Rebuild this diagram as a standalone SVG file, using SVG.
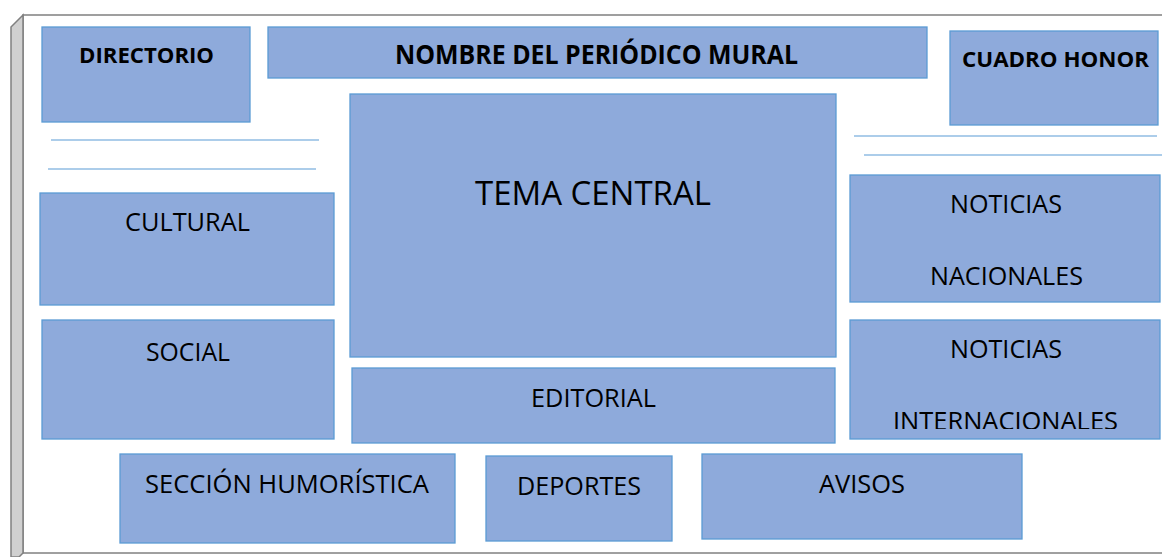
<svg xmlns="http://www.w3.org/2000/svg" width="1162" height="557" viewBox="0 0 1162 557">
<style>
.box{fill:#8eaadb;stroke:#5b9bd5;stroke-width:1.3}
.t{font-family:"Open Sans","Liberation Sans",sans-serif;font-size:25px;fill:#000;text-anchor:start}
.b{font-weight:bold;font-size:22px}
.rule{stroke:#5b9bd5;stroke-width:1.2;fill:none}
</style>
<defs>
<clipPath id="clipInt"><rect x="850" y="320" width="310" height="109"/></clipPath>
</defs>
<g id="frame">
<rect x="23" y="15" width="1145" height="538" fill="#ffffff" stroke="#808080" stroke-width="1.5"/>
<path d="M11,27 L23,15 L23,553 L19,557 L11,557 Z" fill="#d0d0d0" stroke="#808080" stroke-width="1.5"/>
</g>
<g id="rules">
<line class="rule" x1="51" y1="140" x2="319" y2="140"/>
<line class="rule" x1="48" y1="169" x2="316" y2="169"/>
<line class="rule" x1="854" y1="136" x2="1157" y2="136"/>
<line class="rule" x1="864" y1="155" x2="1162" y2="155"/>
</g>
<g id="directorio">
<rect class="box" x="42" y="27" width="208" height="95"/>
<text class="t b" x="79" y="63" textLength="135" lengthAdjust="spacingAndGlyphs">DIRECTORIO</text>
</g>
<g id="nombre">
<rect class="box" x="268" y="27" width="659" height="51"/>
<text class="t b" x="395" y="64" style="font-size:26px" textLength="403" lengthAdjust="spacingAndGlyphs">NOMBRE DEL PERIÓDICO MURAL</text>
</g>
<g id="cuadro-honor">
<rect class="box" x="950" y="31" width="208" height="94"/>
<text class="t b" x="962" y="67" textLength="187" lengthAdjust="spacingAndGlyphs">CUADRO HONOR</text>
</g>
<g id="tema-central">
<rect class="box" x="350" y="94" width="486" height="263"/>
<text class="t" x="475" y="205" style="font-size:32px" textLength="236" lengthAdjust="spacingAndGlyphs">TEMA CENTRAL</text>
</g>
<g id="cultural">
<rect class="box" x="40" y="193" width="294" height="112"/>
<text class="t" x="125" y="231" textLength="125" lengthAdjust="spacingAndGlyphs">CULTURAL</text>
</g>
<g id="social">
<rect class="box" x="42" y="320" width="292" height="119"/>
<text class="t" x="146" y="361" textLength="84" lengthAdjust="spacingAndGlyphs">SOCIAL</text>
</g>
<g id="noticias-nacionales">
<rect class="box" x="850" y="175" width="310" height="127"/>
<text class="t" x="950" y="213" textLength="112" lengthAdjust="spacingAndGlyphs">NOTICIAS</text>
<text class="t" x="930" y="285" textLength="153" lengthAdjust="spacingAndGlyphs">NACIONALES</text>
</g>
<g id="noticias-internacionales">
<rect class="box" x="850" y="320" width="310" height="119"/>
<text class="t" x="950" y="358" textLength="112" lengthAdjust="spacingAndGlyphs">NOTICIAS</text>
<text class="t" x="893" y="430" clip-path="url(#clipInt)" textLength="225" lengthAdjust="spacingAndGlyphs">INTERNACIONALES</text>
</g>
<g id="editorial">
<rect class="box" x="352" y="368" width="483" height="75"/>
<text class="t" x="531" y="407" textLength="125" lengthAdjust="spacingAndGlyphs">EDITORIAL</text>
</g>
<g id="seccion-humoristica">
<rect class="box" x="120" y="454" width="335" height="89"/>
<text class="t" x="145" y="493" textLength="284" lengthAdjust="spacingAndGlyphs">SECCIÓN HUMORÍSTICA</text>
</g>
<g id="deportes">
<rect class="box" x="486" y="456" width="186" height="85"/>
<text class="t" x="517" y="495" textLength="124" lengthAdjust="spacingAndGlyphs">DEPORTES</text>
</g>
<g id="avisos">
<rect class="box" x="702" y="454" width="320" height="85"/>
<text class="t" x="819" y="493" textLength="86" lengthAdjust="spacingAndGlyphs">AVISOS</text>
</g>
<g id="connectors"></g>
</svg>
